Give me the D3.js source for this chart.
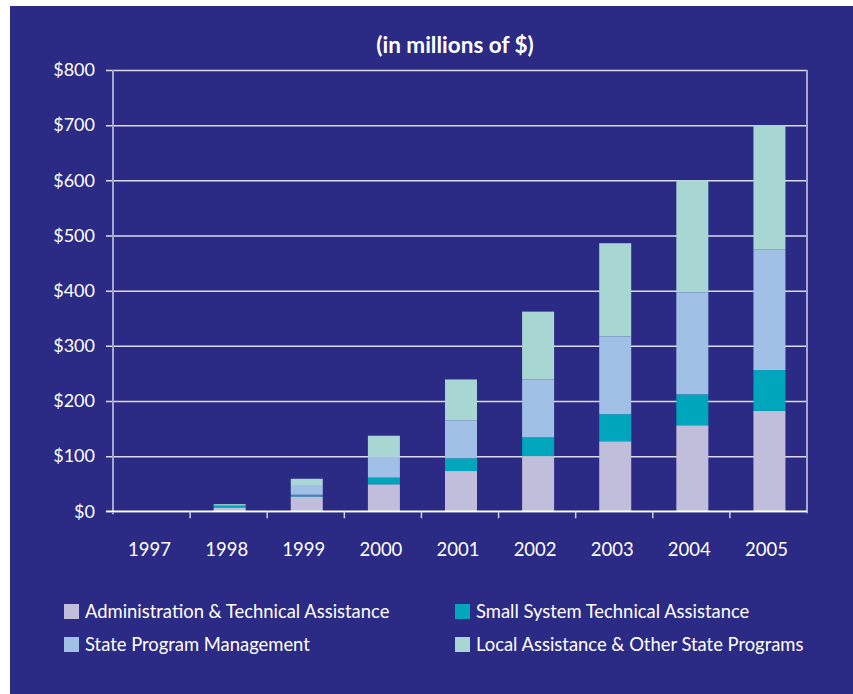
<!DOCTYPE html>
<html>
<head>
<meta charset="utf-8">
<script src="https://cdn.jsdelivr.net/npm/d3@7"></script>
<style>
  html, body { margin: 0; padding: 0; background: #ffffff; }
  svg { display: block; }
  text { font-family: Lato, "Open Sans", sans-serif; fill: #ffffff; }
</style>
</head>
<body>
<script>
// Funding by category, in millions of dollars
const years = ["1997", "1998", "1999", "2000", "2001", "2002", "2003", "2004", "2005"];
const adminTech   = [0, 7, 27, 49, 73, 100, 127, 156, 182];
const smallSystem = [0, 3, 3, 12, 23, 34, 49, 56, 74];
const stateMgmt   = [0, 1, 16, 38, 69, 105, 141, 185, 219];
const localOther  = [0, 2, 13, 38, 74, 123, 169, 203, 225];

const seriesNames = [
  "Administration & Technical Assistance",
  "Small System Technical Assistance",
  "State Program Management",
  "Local Assistance & Other State Programs"
];
const seriesKeys = ["admin", "small", "state", "local"];
const seriesColors = ["#c1bedb", "#00a6bb", "#a0c0e6", "#a8d6d3"];
const yTicks = [0, 100, 200, 300, 400, 500, 600, 700, 800];

const W = 853, H = 694;
const plot = { left: 113, right: 807, top: 70, bottom: 511.3 };

const rows = years.map((y, i) => ({
  year: y,
  admin: adminTech[i],
  small: smallSystem[i],
  state: stateMgmt[i],
  local: localOther[i]
}));

const svg = d3.select("body").append("svg")
  .attr("width", W).attr("height", H);

// panel background
svg.append("rect")
  .attr("x", 10).attr("y", 6)
  .attr("width", W - 10).attr("height", H - 6)
  .attr("fill", "#2b2a84");

const x = d3.scaleBand()
  .domain(years)
  .range([plot.left, plot.right])
  .paddingInner(0.585)
  .paddingOuter(0.2925);

const y = d3.scaleLinear()
  .domain([0, 800])
  .range([plot.bottom, plot.top]);

// title
svg.append("text")
  .attr("x", 455).attr("y", 53)
  .attr("text-anchor", "middle")
  .attr("font-size", 22.5)
  .attr("font-weight", "bold")
  .text("(in millions of $)");

// horizontal gridlines with left tick marks and dollar labels
const yAxis = d3.axisLeft(y)
  .tickValues(yTicks)
  .tickSize(-(plot.right - plot.left))
  .tickPadding(18)
  .tickFormat(d => "$" + d);

const gy = svg.append("g")
  .attr("transform", `translate(${plot.left},0)`)
  .call(yAxis);
gy.select(".domain").remove();
gy.selectAll(".tick line")
  .attr("x1", -7)
  .attr("stroke", "#dcdcee")
  .attr("stroke-width", 1.5);
gy.selectAll(".tick text")
  .attr("font-size", 18)
  .attr("fill", "#ffffff")
  .attr("font-family", "Lato, sans-serif");

// left and right frame lines
svg.append("line")
  .attr("x1", plot.left).attr("x2", plot.left)
  .attr("y1", plot.top).attr("y2", plot.bottom + 3)
  .attr("stroke", "#a9a7d0").attr("stroke-width", 2);
svg.append("line")
  .attr("x1", plot.right).attr("x2", plot.right)
  .attr("y1", plot.top).attr("y2", plot.bottom + 2)
  .attr("stroke", "#a9a7d0").attr("stroke-width", 2);

// stacked bars
const stack = d3.stack().keys(seriesKeys);
const layers = stack(rows);

svg.append("g").selectAll("g")
  .data(layers)
  .join("g")
  .attr("fill", (d, i) => seriesColors[i])
  .selectAll("rect")
  .data(d => d)
  .join("rect")
  .attr("x", d => x(d.data.year) + 1)
  .attr("width", x.bandwidth())
  .attr("y", d => y(d[1]))
  .attr("height", d => y(d[0]) - y(d[1]));

// baseline over the bars' feet
svg.append("line")
  .attr("x1", plot.left - 7).attr("x2", plot.right)
  .attr("y1", y(0)).attr("y2", y(0))
  .attr("stroke", "#ffffff").attr("stroke-width", 1.5);

// category boundary ticks below the baseline
const step = x.step();
svg.append("g").selectAll("line")
  .data(d3.range(1, years.length))
  .join("line")
  .attr("x1", i => plot.left + i * step)
  .attr("x2", i => plot.left + i * step)
  .attr("y1", y(0))
  .attr("y2", y(0) + 7)
  .attr("stroke", "#d0cfe8")
  .attr("stroke-width", 1.5);

// year labels
svg.append("g").selectAll("text")
  .data(years)
  .join("text")
  .attr("x", d => x(d) + x.bandwidth() / 2 - 2)
  .attr("y", 556)
  .attr("text-anchor", "middle")
  .attr("font-size", 18.5)
  .text(d => d);

// legend: two columns, two rows
const legendPos = [
  { x: 64, y: 604 },   // admin
  { x: 455, y: 604 },  // small
  { x: 64, y: 637 },   // state
  { x: 455, y: 637 }   // local
];
const lg = svg.append("g").selectAll("g")
  .data(seriesNames)
  .join("g")
  .attr("transform", (d, i) => `translate(${legendPos[i].x},${legendPos[i].y})`);
lg.append("rect")
  .attr("width", 15).attr("height", 15)
  .attr("fill", (d, i) => seriesColors[i]);
lg.append("text")
  .attr("x", 21).attr("y", 14)
  .attr("font-size", 18.4)
  .text(d => d);
</script>
</body>
</html>
